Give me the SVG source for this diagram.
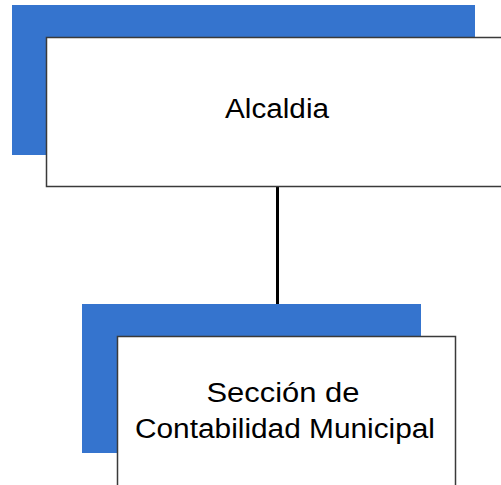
<svg xmlns="http://www.w3.org/2000/svg" width="501" height="485" viewBox="0 0 501 485">
<style>
.shadow{fill:#3574CE}
.box{fill:#fff;stroke:#3a3a3a;stroke-width:1.5}
.lbl{font-family:"Liberation Sans",Arial,sans-serif;font-size:27px;fill:#000;text-anchor:middle}
.conn{stroke:#000;stroke-width:3;fill:none}
</style>
<g id="connectors">
<line class="conn" x1="277.5" y1="186" x2="277.5" y2="312"/>
</g>
<g id="alcaldia">
<rect class="shadow" x="12" y="5" width="463" height="150"/>
<rect class="box" x="46.5" y="37.5" width="470" height="149"/>
<text class="lbl" x="277" y="118" textLength="104" lengthAdjust="spacingAndGlyphs">Alcaldia</text>
</g>
<g id="contabilidad">
<rect class="shadow" x="82" y="304" width="339" height="149"/>
<rect class="box" x="117.5" y="336.5" width="338" height="160"/>
<text class="lbl" x="283" y="402" textLength="153" lengthAdjust="spacingAndGlyphs">Sección de</text>
<text class="lbl" x="285" y="438" textLength="300" lengthAdjust="spacingAndGlyphs">Contabilidad Municipal</text>
</g>
</svg>
